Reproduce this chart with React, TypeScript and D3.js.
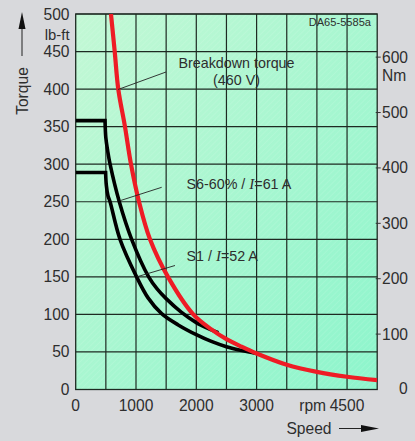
import React from "react";
import * as d3 from "d3";

const redRpm = [585, 647, 706, 817, 917, 1050, 1232, 1530, 1950, 2250, 2500, 2750, 3000, 3500, 4000, 4500, 5000];
const redTorque = [500, 450, 400, 350, 300, 250, 200, 150, 100, 80, 67, 57, 48, 33, 23.5, 17, 12.5];

const s6Rpm = [0, 486, 500, 530, 570, 723, 928, 1210, 1350, 1500, 1750, 2000, 2200, 2365];
const s6Torque = [358, 358, 335, 318, 300, 250, 200, 150, 134, 121, 103, 89, 81, 75.5];

const s1Rpm = [0, 496, 508, 535, 570, 735, 1010, 1200, 1425, 1700, 2000, 2250, 2500, 2750, 3000];
const s1Torque = [289, 289, 272, 258, 250, 200, 150, 122, 101, 86, 73, 64, 57, 52, 48];

const leftTicks = [0, 50, 100, 150, 200, 250, 300, 350, 400, 450, 500];
const rightTicks = [0, 100, 200, 300, 400, 500, 600];
const xTicks = [0, 1000, 2000, 3000, 4500];
const xGrid = [500, 1000, 1500, 2000, 2500, 3000, 3500, 4000, 4500];

const NM_TO_LBFT = 0.7376;

export default function App() {
  const x = d3.scaleLinear().domain([0, 5000]).range([75.7, 377.2]);
  const y = d3.scaleLinear().domain([0, 500]).range([389.5, 14]);
  const yNm = d3.scaleLinear().domain([0, 500 / NM_TO_LBFT]).range([389.5, 14]);

  const curve = d3
    .line<[number, number]>()
    .x((d) => x(d[0]))
    .y((d) => y(d[1]))
    .curve(d3.curveCatmullRom.alpha(0.5));
  const straight = d3
    .line<[number, number]>()
    .x((d) => x(d[0]))
    .y((d) => y(d[1]));

  const zip = (a: number[], b: number[]) => a.map((v, i) => [v, b[i]] as [number, number]);
  const red = zip(redRpm, redTorque);
  const s6 = zip(s6Rpm, s6Torque);
  const s1 = zip(s1Rpm, s1Torque);

  const blackPath = (pts: [number, number][]) =>
    straight(pts.slice(0, 2))! + curve(pts.slice(1))!.replace(/^M/, "L");

  const [x0, x1] = x.range();
  const [yb, yt] = y.range();
  const font = "Liberation Sans, Arial, sans-serif";
  const txt = "#2e2e2e";

  return (
    <svg
      width={415}
      height={441}
      style={{ position: "absolute", left: 0, top: 0, background: "#d8d9dc" }}
      fontFamily={font}
    >
      <defs>
        <linearGradient id="bg" x1="0" y1="0" x2="1" y2="1">
          <stop offset="0" stopColor="#c3f8d5" />
          <stop offset="1" stopColor="#8df5cc" />
        </linearGradient>
        <pattern id="hatch" width="4" height="4" patternUnits="userSpaceOnUse" patternTransform="rotate(45)">
          <line x1="0" y1="0" x2="0" y2="4" stroke="#ffffff" strokeOpacity="0.12" strokeWidth="1.5" />
        </pattern>
        <clipPath id="clip">
          <rect x={x0} y={yt} width={x1 - x0} height={yb - yt} />
        </clipPath>
      </defs>
      <rect x={x0} y={yt} width={x1 - x0} height={yb - yt} fill="url(#bg)" />
      <rect x={x0} y={yt} width={x1 - x0} height={yb - yt} fill="url(#hatch)" />

      {leftTicks.map((t) => (
        <line key={"h" + t} x1={x0} x2={x1} y1={y(t)} y2={y(t)} stroke="#1e2a22" strokeWidth={1.2} />
      ))}
      {xGrid.map((t) => (
        <line key={"v" + t} x1={x(t)} x2={x(t)} y1={yt} y2={yb} stroke="#1e2a22" strokeWidth={1.2} />
      ))}
      <rect x={x0} y={yt} width={x1 - x0} height={yb - yt} fill="none" stroke="#1e2a22" strokeWidth={1.3} />

      <text x={371} y={25.5} fontSize={11.1} textAnchor="end" fill={txt}>DA65-5585a</text>

      <g clipPath="url(#clip)">
        <path d={blackPath(s1)} fill="none" stroke="#000" strokeWidth={3.6} strokeLinejoin="miter" />
        <path d={blackPath(s6)} fill="none" stroke="#000" strokeWidth={3.6} strokeLinejoin="miter" />
        <path d={curve(red)!} fill="none" stroke="#ee1c25" strokeWidth={4.2} />
      </g>

      <line x1={118} y1={89.5} x2={166} y2={72} stroke="#222" strokeWidth={0.9} />
      <text x={236.5} y={67.5} fontSize={14.3} textAnchor="middle" fill={txt}>Breakdown torque</text>
      <text x={236.5} y={84.5} fontSize={14.3} textAnchor="middle" fill={txt}>(460 V)</text>

      <line x1={120} y1={200.7} x2={161.7} y2={187.3} stroke="#222" strokeWidth={0.9} />
      <text x={186.5} y={188.5} fontSize={14.3} fill={txt}>
        S6-60% / <tspan fontFamily="Liberation Serif, serif" fontStyle="italic" fontSize={15}>I</tspan>=61 A
      </text>

      <line x1={137.3} y1={276.7} x2={175} y2={265.5} stroke="#222" strokeWidth={0.9} />
      <text x={186.5} y={261} fontSize={14.3} fill={txt}>
        S1 / <tspan fontFamily="Liberation Serif, serif" fontStyle="italic" fontSize={15}>I</tspan>=52 A
      </text>

      {leftTicks.map((t) => (
        <text key={"l" + t} x={69.5} y={y(t) + 5.5} fontSize={15.6} textAnchor="end" fill={txt}>
          {t}
        </text>
      ))}
      <text x={69.5} y={39.5} fontSize={14.8} textAnchor="end" fill={txt}>lb-ft</text>

      {rightTicks.map((t) => (
        <g key={"r" + t}>
          {t > 0 && <line x1={x1 - 1.5} x2={x1 + 3.5} y1={yNm(t)} y2={yNm(t)} stroke="#333" strokeWidth={1} />}
          <text x={t === 0 ? 399 : 382} y={yNm(t) + (t === 0 ? 4.5 : 5.5)} fontSize={15.6} fill={txt}>
            {t}
          </text>
        </g>
      ))}
      <text x={382} y={81} fontSize={15.6} fill={txt}>Nm</text>

      {xTicks.map((t) => (
        <text key={"b" + t} x={x(t)} y={411} fontSize={15.6} textAnchor="middle" fill={txt}>
          {t}
        </text>
      ))}
      <text x={x(4500) - 21} y={411} fontSize={15.6} textAnchor="end" fill={txt}>rpm</text>

      <text x={0} y={0} fontSize={15.6} fill={txt} textAnchor="middle" transform="translate(27.5,91) rotate(-90)">
        Torque
      </text>
      <line x1={22} y1={56} x2={22} y2={24} stroke="#222" strokeWidth={1} />
      <polygon points="22,12 18.5,29 25.5,29" fill="#111" />

      <text x={309} y={434} fontSize={15.6} fill={txt} textAnchor="middle">Speed</text>
      <line x1={339} y1={428.5} x2={366} y2={428.5} stroke="#222" strokeWidth={1} />
      <polygon points="379,428.5 361,425 361,432" fill="#111" />
    </svg>
  );
}
